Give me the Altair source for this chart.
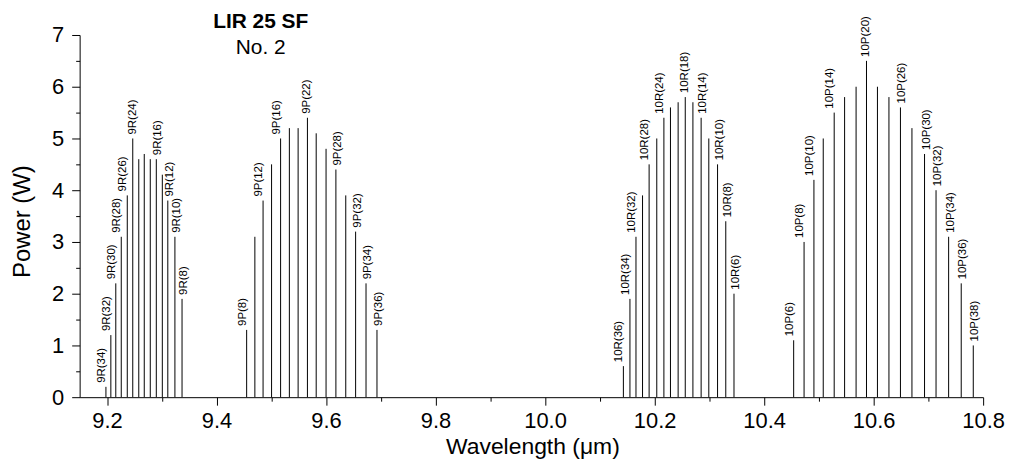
import altair as alt
import pandas as pd

FONT = "Liberation Sans"

# ---- data ----
r9_j = [34, 32, 30, 28, 26, 24, 22, 20, 18, 16, 14, 12, 10, 8]
r9_wl = [9.198, 9.207, 9.216, 9.226, 9.237, 9.247, 9.258, 9.268, 9.279, 9.290, 9.301, 9.311, 9.324, 9.337]
r9_pw = [0.2, 1.2, 2.2, 3.1, 3.9, 5.0, 4.6, 4.7, 4.6, 4.6, 4.3, 3.8, 3.1, 1.9]
r9_lab = [34, 32, 30, 28, 26, 24, 16, 12, 10, 8]

p9_j = [8, 10, 12, 14, 16, 18, 20, 22, 24, 26, 28, 30, 32, 34, 36]
p9_wl = [9.455, 9.470, 9.485, 9.5005, 9.517, 9.533, 9.549, 9.566, 9.582, 9.600, 9.618, 9.636, 9.654, 9.673, 9.693]
p9_pw = [1.3, 3.1, 3.8, 4.5, 5.0, 5.2, 5.2, 5.4, 5.1, 4.8, 4.4, 3.9, 3.2, 2.2, 1.3]
p9_lab = [8, 12, 16, 22, 28, 32, 34, 36]

r10_j = [36, 34, 32, 30, 28, 26, 24, 22, 20, 18, 16, 14, 12, 10, 8, 6]
r10_wl = [10.143, 10.155, 10.166, 10.178, 10.190, 10.204, 10.217, 10.229, 10.243, 10.256, 10.270, 10.285, 10.299, 10.315, 10.330, 10.345]
r10_pw = [0.6, 1.9, 3.1, 3.9, 4.5, 5.0, 5.4, 5.6, 5.7, 5.8, 5.7, 5.4, 5.0, 4.5, 3.4, 2.0]
r10_lab = [36, 34, 32, 28, 24, 18, 14, 10, 8, 6]

p10_j = [6, 8, 10, 12, 14, 16, 18, 20, 22, 24, 26, 28, 30, 32, 34, 36, 38]
p10_wl = [10.454, 10.473, 10.491, 10.508, 10.528, 10.547, 10.568, 10.587, 10.607, 10.628, 10.649, 10.670, 10.693, 10.714, 10.737, 10.760, 10.782]
p10_pw = [1.1, 3.0, 4.2, 5.0, 5.5, 5.8, 6.0, 6.5, 6.0, 5.8, 5.6, 5.2, 4.7, 4.0, 3.1, 2.2, 1.0]
p10_lab = [6, 8, 10, 14, 20, 26, 30, 32, 34, 36, 38]

x_major_ticks = [9.2, 9.4, 9.6, 9.8, 10.0, 10.2, 10.4, 10.6, 10.8]
x_minor_ticks = [9.3, 9.5, 9.7, 9.9, 10.1, 10.3, 10.5, 10.7]
y_major_ticks = [0, 1, 2, 3, 4, 5, 6, 7]
y_minor_ticks = [0.5, 1.5, 2.5, 3.5, 4.5, 5.5, 6.5]

rows = []
for branch, js, wl, pw, lab in [
    ("9R", r9_j, r9_wl, r9_pw, r9_lab),
    ("9P", p9_j, p9_wl, p9_pw, p9_lab),
    ("10R", r10_j, r10_wl, r10_pw, r10_lab),
    ("10P", p10_j, p10_wl, p10_pw, p10_lab),
]:
    peak = wl[pw.index(max(pw))]
    for j, w, p in zip(js, wl, pw):
        side = "peak" if w == peak else ("left" if w < peak else "right")
        rows.append(dict(branch=branch, j=j, wavelength=w, power=p,
                         label=f"{branch}({j})" if j in lab else "", side=side))
df = pd.DataFrame(rows)

xs = alt.Scale(domain=[9.15, 10.8], nice=False, zero=False)
ys = alt.Scale(domain=[0, 7], nice=False, zero=True)

x_axis = alt.Axis(values=x_major_ticks, format=".1f", tickSize=8, labelPadding=5,
                  labelFontSize=22, labelFlush=False, labelOverlap=False, grid=False,
                  title="Wavelength (μm)", titleFontSize=23, titleFontWeight="normal",
                  titleX=455, titleY=50, titleAlign="center", titleBaseline="middle",
                  orient="bottom")
y_axis = alt.Axis(values=y_major_ticks, format="d", tickSize=8, labelPadding=8,
                  labelFontSize=22, labelOverlap=False, grid=False,
                  title="Power (W)", titleFontSize=24, titleFontWeight="normal",
                  titleAngle=270, titleX=-57, titleY=187, titleAlign="center",
                  titleBaseline="middle", orient="left")

rules = alt.Chart(df).mark_rule(color="black", strokeWidth=1).encode(
    x=alt.X("wavelength:Q", scale=xs, axis=x_axis),
    y=alt.Y("power:Q", scale=ys, axis=y_axis),
    y2=alt.datum(0),
)

def text_layer(side, dy):
    return alt.Chart(df).transform_filter(
        f"datum.label != '' && datum.side == '{side}'"
    ).mark_text(angle=270, align="left", baseline="middle", dx=4, dy=dy,
                fontSize=11.5, font=FONT, color="black").encode(
        x=alt.X("wavelength:Q", scale=xs, axis=None),
        y=alt.Y("power:Q", scale=ys, axis=None),
        text="label:N",
    )

minor = alt.Chart(df).mark_rule(strokeOpacity=0).encode(
    x=alt.X("wavelength:Q", scale=xs,
            axis=alt.Axis(values=x_minor_ticks, labels=False, tickSize=4, domain=False,
                          grid=False, orient="bottom"), title=None),
    y=alt.Y("power:Q", scale=ys,
            axis=alt.Axis(values=y_minor_ticks, labels=False, tickSize=4, domain=False,
                          grid=False, orient="left"), title=None),
    y2=alt.datum(0),
)

chart = alt.layer(
    rules, text_layer("left", -4), text_layer("peak", 0), text_layer("right", 2), minor
).resolve_axis(x="independent", y="independent").properties(
    width=908, height=364,
    autosize=alt.AutoSizeParams(type="none"),
    padding={"left": 72, "top": 26, "right": 26, "bottom": 62},
    title=alt.Title(text="LIR 25 SF", subtitle="No. 2", anchor="middle", dx=-272,
                    offset=-42, fontSize=21, fontWeight="bold", font=FONT, color="black",
                    subtitleFontSize=21, subtitleFont=FONT, subtitleColor="black",
                    subtitleFontWeight="normal", subtitlePadding=5),
).configure_view(strokeWidth=0).configure_axis(
    labelFont=FONT, titleFont=FONT, labelColor="black", titleColor="black",
    tickColor="black", domainColor="black", domainWidth=1, tickWidth=1,
)

chart.save("out.html", embed_options={"renderer": "svg", "actions": False})
